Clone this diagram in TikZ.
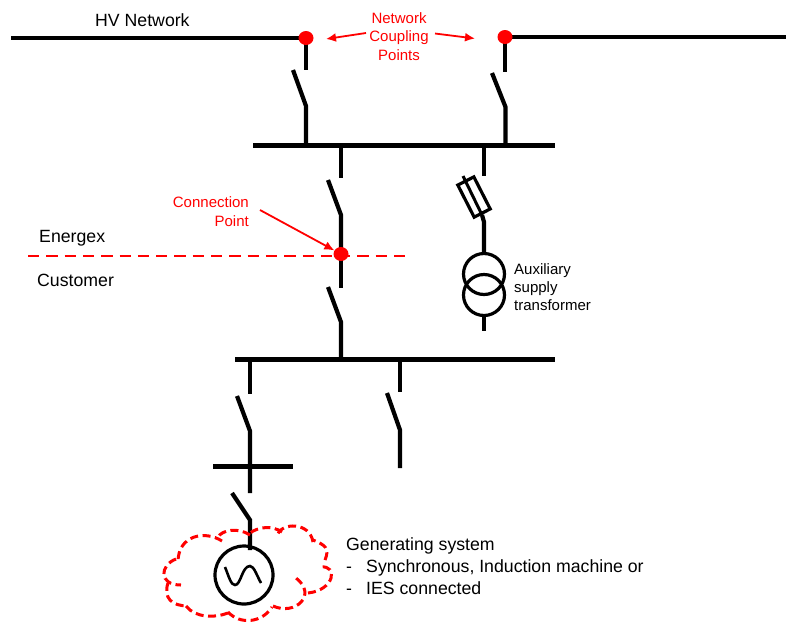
\documentclass[tikz,border=0pt]{standalone}
\usepackage{fontspec}
\setmainfont{Liberation Sans}
\usepackage{tikz}
\usetikzlibrary{arrows.meta, positioning, shapes.geometric}
\definecolor{netred}{RGB}{255,0,0}
\tikzset{
    busline/.style={line width=4.2pt, line cap=butt, line join=miter},
    thinbus/.style={line width=3.2pt},
    redarrow/.style={netred, line width=1.8pt, -{Latex[length=10pt, width=9pt]}},
    redpoint/.style={ellipse, fill=netred, minimum width=15pt, minimum height=14pt, inner sep=0pt},
    biglabel/.style={inner sep=0pt, anchor=base west, font=\fontsize{17.7}{20}\selectfont},
    smalllabel/.style={inner sep=0pt, align=left, font=\fontsize{15}{18}\selectfont},
    redlabel/.style={inner sep=0pt, text=netred, font=\fontsize{15}{18.5}\selectfont},
    cloudline/.style={netred, line width=3pt, dash pattern=on 8pt off 4.5pt},
    windingline/.style={draw, circle, line width=3.2pt, minimum size=41pt, inner sep=0pt}
}
\begin{document}
\begin{tikzpicture}[x=1pt, y=-1pt]
    \useasboundingbox (0,0) rectangle (786,622);

    % points of the network
    \coordinate (netL) at (11,38);
    \coordinate (ncpL) at (306,38);
    \coordinate (ncpR) at (505,37);
    \coordinate (netR) at (786,37);
    \coordinate (busAL) at (253,145.5);
    \coordinate (busAR) at (555,145.5);
    \coordinate (busBL) at (235,359.5);
    \coordinate (busBR) at (555,359.5);
    \coordinate (cpoint) at (341,254);

    % incoming switches
    \coordinate (s1a) at (306,70);
    \coordinate (s1b) at (293,70);
    \coordinate (s1c) at (306,106);
    \coordinate (s1d) at (306,145.5);
    \coordinate (s2a) at (505,72);
    \coordinate (s2b) at (492,73);
    \coordinate (s2c) at (505.5,107);
    \coordinate (s2d) at (505.5,145.5);

    % centre feeder
    \coordinate (f1a) at (341,145.5);
    \coordinate (f1b) at (341,178);
    \coordinate (f1c) at (328,180);
    \coordinate (f1d) at (341,215);
    \coordinate (f2a) at (341,288);
    \coordinate (f2b) at (328,287);
    \coordinate (f2c) at (341,322);
    \coordinate (f2d) at (341,359.5);

    % auxiliary feeder
    \coordinate (auxA) at (484,145.5);
    \coordinate (auxB) at (484,176);
    \coordinate (fuseA) at (463,176);
    \coordinate (fuseB) at (482,215);
    \coordinate (auxC) at (484,222);
    \coordinate (auxD) at (484,254);
    \coordinate (auxE) at (484,315);
    \coordinate (auxF) at (484,331);

    % lower feeders
    \coordinate (g1a) at (250,359.5);
    \coordinate (g1b) at (250,394);
    \coordinate (g1c) at (237,396);
    \coordinate (g1d) at (250,431);
    \coordinate (g1e) at (250,493);
    \coordinate (g2a) at (232,493);
    \coordinate (g2b) at (250,520);
    \coordinate (g2c) at (250,550);
    \coordinate (crossL) at (213,466.5);
    \coordinate (crossR) at (293,466.5);
    \coordinate (h1a) at (400,359.5);
    \coordinate (h1b) at (400,392);
    \coordinate (h1c) at (387,393);
    \coordinate (h1d) at (400,430);
    \coordinate (h1e) at (400,468);

    % bus lines
    \draw[busline] (netL) -- (ncpL);
    \draw[busline] (ncpR) -- (netR);
    \draw[busline] (busAL) -- (busAR);
    \draw[busline] (busBL) -- (busBR);
    \draw[busline] (crossL) -- (crossR);

    % switches
    \draw[busline] (ncpL) -- (s1a);
    \draw[busline] (s1b) -- (s1c) -- (s1d);
    \draw[busline] (ncpR) -- (s2a);
    \draw[busline] (s2b) -- (s2c) -- (s2d);
    \draw[busline] (f1a) -- (f1b);
    \draw[busline] (f1c) -- (f1d) -- (cpoint);
    \draw[busline] (cpoint) -- (f2a);
    \draw[busline] (f2b) -- (f2c) -- (f2d);
    \draw[busline] (g1a) -- (g1b);
    \draw[busline] (g1c) -- (g1d) -- (g1e);
    \draw[busline] (g2a) -- (g2b) -- (g2c);
    \draw[busline] (h1a) -- (h1b);
    \draw[busline] (h1c) -- (h1d) -- (h1e);

    % fuse and transformer
    \draw[busline] (auxA) -- (auxB);
    \node[draw, line width=3.2pt, rotate=-63, minimum width=36pt, minimum height=18pt, inner sep=0pt] (fuse) at (474,197) {};
    \draw[line width=3pt] (fuseA) -- (fuseB);
    \draw[busline] (fuseB) -- (auxC) -- (auxD);
    \node[windingline] (windA) at (484,274) {};
    \node[windingline] (windB) at (484,295) {};
    \draw[thinbus] (auxE) -- (auxF);

    % generator
    \node[draw, circle, line width=3.2pt, minimum size=58pt, inner sep=0pt] (gen) at (244,575) {};
    \coordinate (sineA) at (225,567);
    \coordinate (sineB) at (235,585);
    \coordinate (sineC) at (250,566);
    \coordinate (sineD) at (261,583);
    \draw[line width=2.6pt] (sineA) .. controls (229,577) and (231,585) .. (sineB)
        .. controls (241,585) and (242,566) .. (sineC)
        .. controls (254,566) and (257,576) .. (sineD);

    % cloud
    \draw[cloudline] (222,541) .. controls (205,530) and (178,535) .. (178,562);
    \draw[cloudline] (176,559) .. controls (160,565) and (158,585) .. (181,585);
    \draw[cloudline] (168,583) .. controls (163,598) and (172,606) .. (188,606);
    \draw[cloudline] (186,606) .. controls (195,618) and (215,618) .. (228,613);
    \draw[cloudline] (228,612) .. controls (240,625) and (262,623) .. (272,607);
    \draw[cloudline] (273,606) .. controls (295,616) and (318,595) .. (296,578);
    \draw[cloudline] (308,593) .. controls (335,590) and (338,565) .. (321,567);
    \draw[cloudline] (325,560) .. controls (330,548) and (325,545) .. (313,540);
    \draw[cloudline] (313,542) .. controls (310,522) and (282,522) .. (277,535);
    \draw[cloudline] (282,532) .. controls (272,525) and (258,527) .. (250,533);
    \draw[cloudline] (250,535) .. controls (238,527) and (222,530) .. (218,537);

    % boundary
    \coordinate (limitL) at (28,256);
    \coordinate (limitR) at (405,256);
    \draw[netred, line width=2.8pt, dash pattern=on 11.3pt off 7pt] (limitL) -- (limitR);

    % red points
    \node[redpoint] (couplingL) at (ncpL) {};
    \node[redpoint] (couplingR) at (ncpR) {};
    \node[redpoint] (connection) at (cpoint) {};

    % labels
    \node[biglabel] (hvnet) at (95,26) {HV Network};
    \node[biglabel] (energex) at (39,242) {Energex};
    \node[biglabel] (customer) at (37,286) {Customer};
    \node[redlabel, align=center] (ncptext) at (399,36.5) {Network\\Coupling\\Points};
    \node[redlabel, align=right, anchor=east] (cptext) at (249,211.5) {Connection\\Point};
    \node[smalllabel, anchor=west] (auxtext) at (514,287) {Auxiliary\\supply\\transformer};
    \node[biglabel] (gentext) at (346,550) {Generating system};
    \node[biglabel] (dashA) at (346,572) {-};
    \node[biglabel] (genA) at (366,572) {Synchronous, Induction machine or};
    \node[biglabel] (dashB) at (346,594) {-};
    \node[biglabel] (genB) at (366,594) {IES connected};

    % arrows
    \coordinate (tipL) at (326,39);
    \coordinate (tailL) at (366,33);
    \coordinate (tipR) at (475,38.5);
    \coordinate (tailR) at (435,33.5);
    \coordinate (tailC) at (260,210);
    \draw[redarrow] (tailL) -- (tipL);
    \draw[redarrow] (tailR) -- (tipR);
    \draw[redarrow] (tailC) -- (connection);
\end{tikzpicture}
\end{document}
